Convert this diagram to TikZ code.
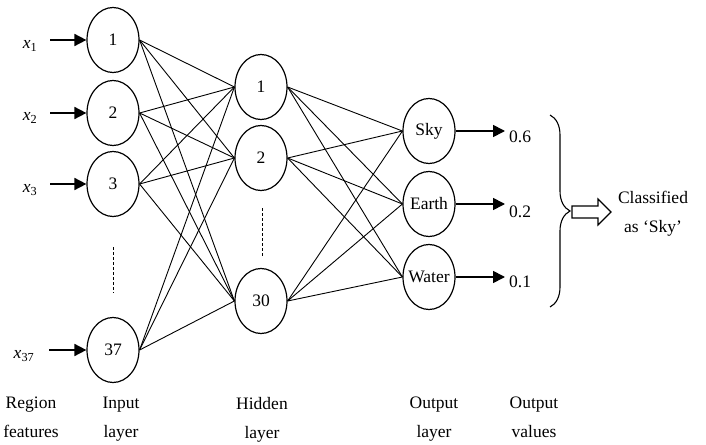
\documentclass[tikz,border=0pt]{standalone}
\usepackage{fontspec}
\setmainfont{Liberation Serif}
\usepackage{tikz}
\usetikzlibrary{arrows.meta}
\usetikzlibrary{shapes.geometric}
\usetikzlibrary{decorations.pathreplacing}

\newcommand{\outname}[1]{\makebox[0pt]{#1}}

\tikzset{
  neuron/.style={draw, ellipse, line width=1.2pt, minimum width=52pt, minimum height=65pt, inner sep=0pt},
  feed/.style={line width=1.7pt, -{Triangle[length=12pt,width=12pt]}},
  link/.style={line width=0.9pt},
  lbl/.style={inner sep=0pt, align=center}
}

\begin{document}
\begin{tikzpicture}[x=1pt,y=-1pt,font=\fontsize{17.5}{29}\selectfont]
\useasboundingbox[fill=white] (0,0) rectangle (706,444);

\node[neuron] (in1) at (113,40) {1};
\node[neuron] (in2) at (113,113) {2};
\node[neuron] (in3) at (113,184) {3};
\node[neuron] (in37) at (113,350) {37};

\node[neuron] (h1) at (261,87) {1};
\node[neuron] (h2) at (261,158) {2};
\node[neuron] (h30) at (261,301) {30};

\node[neuron] (sky) at (429,131) {\outname{Sky}};
\node[neuron] (earth) at (429,204) {\outname{Earth}};
\node[neuron] (water) at (429,277) {\outname{Water}};

\draw[line width=1pt, dash pattern=on 3pt off 2pt] (113,247) -- (113,293);
\draw[line width=1pt, dash pattern=on 3pt off 2pt] (262,208) -- (262,257);

\foreach \i in {in1,in2,in3,in37}
  \foreach \h in {h1,h2,h30}
    \draw[link] (\i.east) -- (\h.west);
\foreach \h in {h1,h2,h30}
  \foreach \o in {sky,earth,water}
    \draw[link] (\h.east) -- (\o.west);

\node[lbl, minimum width=40pt] (x1) at (30,46) {\textit{x}\textsubscript{1}};
\node[lbl, minimum width=40pt] (x2) at (30,118) {\textit{x}\textsubscript{2}};
\node[lbl, minimum width=40pt] (x3) at (30,190) {\textit{x}\textsubscript{3}};
\node[lbl, minimum width=50pt] (x37) at (24,356) {\textit{x}\textsubscript{37}};

\draw[feed] (x1.east |- in1.west) -- (in1.west);
\draw[feed] (x2.east |- in2.west) -- (in2.west);
\draw[feed] (x3.east |- in3.west) -- (in3.west);
\draw[feed] (x37.east |- in37.west) -- (in37.west);

\node[lbl, inner xsep=4pt, anchor=west] (v1) at (505,137) {0.6};
\node[lbl, inner xsep=4pt, anchor=west] (v2) at (505,212) {0.2};
\node[lbl, inner xsep=4pt, anchor=west] (v3) at (505,282) {0.1};

\draw[feed] (sky.east) -- (sky.east -| v1.west);
\draw[feed] (earth.east) -- (earth.east -| v2.west);
\draw[feed] (water.east) -- (water.east -| v3.west);

\draw[line width=1.1pt, decorate, decoration={brace, amplitude=20pt}] (550,115) -- (550,307);
\draw[line width=1.2pt, line join=miter] (572,206) -- (598,206) -- (598,199) -- (611,212) -- (598,225) -- (598,218) -- (572,218) -- cycle;
\node[lbl] (classified) at (653,214) {Classified\\as ‘Sky’};

\node[lbl, anchor=north] (regionlbl) at (31,397) {Region\\features};
\node[lbl, anchor=north] (inlbl) at (121,397) {Input\\layer};
\node[lbl, anchor=north] (hidlbl) at (262,397) {Hidden\\layer};
\node[lbl, anchor=north] (outlbl) at (434,397) {Output\\layer};
\node[lbl, anchor=north] (vallbl) at (534,397) {Output\\values};
\end{tikzpicture}
\end{document}
